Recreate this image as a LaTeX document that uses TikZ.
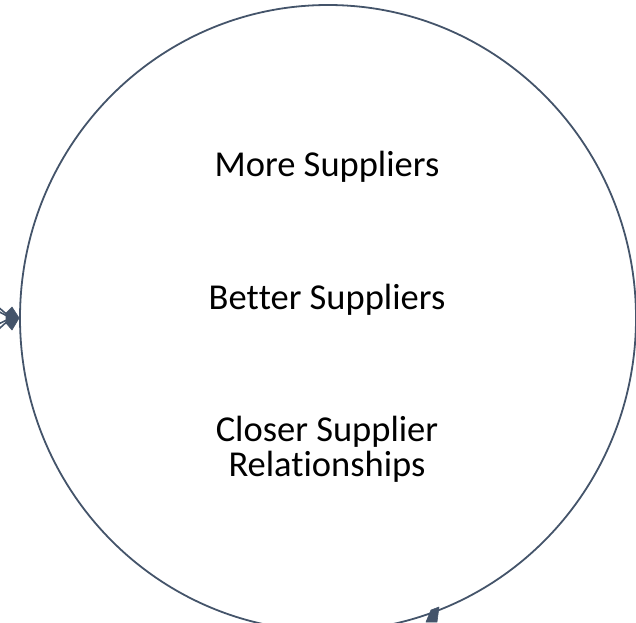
\documentclass[tikz,border=0pt]{standalone}
\usepackage{fontspec}
\setmainfont{Carlito}[Ligatures=NoCommon, Contextuals=NoAlternate]
\usetikzlibrary{shapes.geometric}
\definecolor{ring}{HTML}{44546A}
\tikzset{
  ringshape/.style={draw=ring, line width=1.8pt, ellipse, minimum width=616pt, minimum height=626pt, inner sep=0pt},
  label/.style={font=\fontsize{36.5}{35}\selectfont, text=black, align=center, inner sep=0pt},
  fan/.style={draw=ring, line width=1.6pt},
  headfill/.style={fill=ring, draw=ring, line width=0.6pt, line join=round}
}
\begin{document}
\begin{tikzpicture}[x=1pt,y=-1pt]
\useasboundingbox (0,0) rectangle (636,622);
\clip (0,0) rectangle (636,622);
\node[ringshape] (c) at (328,318) {};
\node[label] (t1) at (327,167) {More Suppliers};
\node[label] (t2) at (327,300) {Bet\kern0pt ter Suppliers};
\node[label] (t3) at (327,449) {Closer Supplier\\Relationships};
% left arrow fan into the ring
\coordinate (f1) at (-10,300);
\coordinate (f2) at (-10,307);
\coordinate (f3) at (-10,328);
\coordinate (f4) at (-10,337);
\coordinate (h) at (11,318);
\foreach \f in {f1,f2,f3,f4} \draw[fan] (\f) -- (h);
\fill[headfill] (c.west) -- (12,307) -- (6,313) -- (6,323) -- (12,330) -- cycle;
% partial arrow head at the bottom
\coordinate (b1) at (426,622);
\fill[headfill] (b1) -- (431,610) -- (439,607) -- (437,622) -- cycle;
\end{tikzpicture}
\end{document}
